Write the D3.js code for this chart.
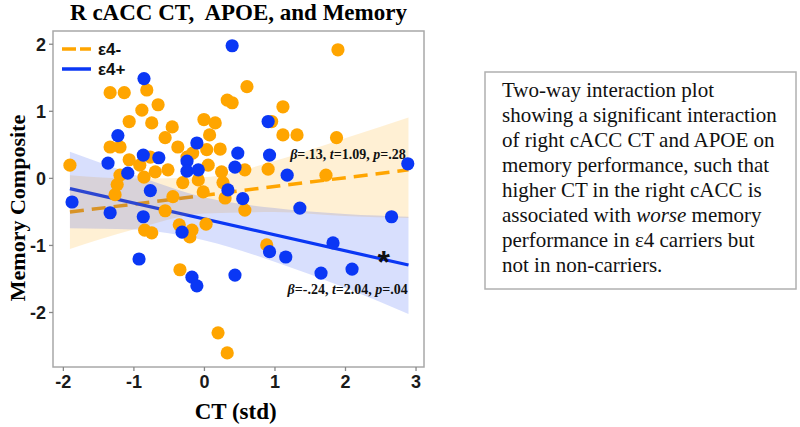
<!DOCTYPE html>
<html>
<head>
<meta charset="utf-8">
<script src="https://cdn.jsdelivr.net/npm/d3@7"></script>
<style>
  body { margin: 0; background: #fff; }
  svg { display: block; }
</style>
</head>
<body>
<div id="chart"></div>
<script>
// e4- (non-carriers), CT (std) and memory composite
var neg_ct  = [-1.90, -1.33, -1.13, -0.81, -0.88, -0.65, -1.06, -0.74, -0.45, -0.55,
               -1.33, -1.19, -1.06, -0.76, -0.91, -0.85, -1.19, -1.23, -1.26, -0.44,
                0.33,  0.40,  0.00,  0.16,  0.08, -0.37, -0.24,  0.04,  0.23,  0.06,
                0.25, -0.30, -0.08, -0.01,  0.27,  1.90,  0.61,  1.12,  0.96,  1.12,
                1.32,  1.88,  0.58,  0.91,  1.73, -0.16, -0.51, -0.69, -0.84, -0.74,
               -0.55, -0.35, -0.17, -0.20,  0.03, -0.34,  0.20,  0.33,  0.30,  0.58,  0.89]
var neg_mem = [ 0.19,  1.27,  1.27,  1.31,  1.01,  1.09,  0.84,  0.82,  0.76,  0.60,
                0.46,  0.46,  0.27,  0.31,  0.19,  0.01,  0.04, -0.10, -0.25, -0.28,
                1.16,  1.12,  0.87,  0.82,  0.64,  0.46,  0.31,  0.42,  0.43,  0.19,
                0.09, -0.07, -0.03, -0.21, -0.07,  1.91,  1.36,  1.06,  0.84,  0.64,
                0.64,  0.60,  0.12,  0.13,  0.04,  0.37,  0.12,  0.09, -0.78, -0.82,
               -0.49, -0.70, -0.78, -0.88, -0.69, -1.37, -2.31, -2.61, -0.30, -0.48, -1.00]

// e4+ (carriers)
var pos_ct  = [ 0.40, -0.85, -1.22, -1.36, -1.08, -0.86, -0.64, -0.76, -0.10, -0.24,
               -0.24, -0.08,  0.44,  0.48,  0.34,  0.55,  0.91,  0.93,  1.18,  2.89,
               -1.87, -1.33, -0.86, -0.31, -0.92, -0.17, -0.10,  0.44,  0.93,  1.16,
                1.36,  2.66,  1.83,  1.66,  2.10]
var pos_mem = [ 1.97,  1.48,  0.63,  0.22,  0.07,  0.34,  0.30, -0.19,  0.52,  0.25,
                0.10,  0.12,  0.16,  0.37, -0.18, -0.31,  0.84,  0.34,  0.04,  0.21,
               -0.36, -0.52, -0.58, -0.81, -1.21, -1.48, -1.61, -1.45, -1.10, -1.18,
               -0.45, -0.58, -0.97, -1.42, -1.36]

// fitted lines, end points
var fit_x   = [-1.9, 2.9]
var neg_fit = [-0.51, 0.12]
var pos_fit = [-0.16, -1.30]

// confidence bands
var band_x = [-1.9, -1, 0, 1, 2, 2.9]
var neg_lo = [-1.06, -0.77, -0.53, -0.51, -0.57, -0.60]
var neg_hi = [ 0.04, -0.01,  0.01,  0.25,  0.59,  0.90]
var pos_lo = [-0.75, -0.77, -0.93, -1.25, -1.64, -2.03]
var pos_hi = [ 0.39,  0.05, -0.29, -0.45, -0.54, -0.58]

var x_ticks = [-2, -1, 0, 1, 2, 3]
var y_ticks = [-2, -1, 0, 1, 2]

var groups = ["\u03b54-", "\u03b54+"]
var note_lines = [
  "Two-way interaction plot",
  "showing a significant interaction",
  "of right cACC CT and APOE on",
  "memory performance, such that",
  "higher CT in the right cACC is",
  "associated with |worse| memory",
  "performance in \u03b54 carriers but",
  "not in non-carriers."
]

var orange = "#ffa500", blue = "#0a37f5"
var serif = "'Liberation Serif', 'Times New Roman', serif"
var sans = "'Liberation Sans', Arial, sans-serif"

var margin = {top: 31, left: 53}
var width = 371, height = 336

var svg = d3.select("#chart").append("svg")
    .attr("width", 800)
    .attr("height", 427)

var g = svg.append("g")
    .attr("transform", "translate(" + margin.left + "," + margin.top + ")")

var x = d3.scaleLinear().domain([-2.14, 3.12]).range([0, width])
var y = d3.scaleLinear().domain([-2.82, 2.19]).range([height, 0])

// clip to panel
g.append("clipPath").attr("id", "panel")
  .append("rect").attr("width", width).attr("height", height)

var plot = g.append("g").attr("clip-path", "url(#panel)")

var line = d3.line().x(function(d){ return x(d[0]) }).y(function(d){ return y(d[1]) })

plot.append("path")
    .attr("d", line(d3.zip(fit_x, neg_fit)))
    .attr("fill", "none")
    .attr("stroke", orange)
    .attr("stroke-width", 3.5)
    .attr("stroke-dasharray", "14,8")

plot.append("path")
    .attr("d", line(d3.zip(fit_x, pos_fit)))
    .attr("fill", "none")
    .attr("stroke", blue)
    .attr("stroke-width", 3.2)

var area = d3.area()
    .curve(d3.curveMonotoneX)
    .x(function(d){ return x(d[0]) })
    .y0(function(d){ return y(d[1]) })
    .y1(function(d){ return y(d[2]) })

plot.append("path")
    .attr("d", area(d3.zip(band_x, neg_lo, neg_hi)))
    .attr("fill", orange)
    .attr("fill-opacity", 0.17)

plot.append("path")
    .attr("d", area(d3.zip(band_x, pos_lo, pos_hi)))
    .attr("fill", blue)
    .attr("fill-opacity", 0.16)

plot.selectAll(".neg").data(d3.zip(neg_ct, neg_mem)).enter()
  .append("circle")
    .attr("class", "neg")
    .attr("cx", function(d){ return x(d[0]) })
    .attr("cy", function(d){ return y(d[1]) })
    .attr("r", 6.6)
    .attr("fill", orange)

plot.selectAll(".pos").data(d3.zip(pos_ct, pos_mem)).enter()
  .append("circle")
    .attr("class", "pos")
    .attr("cx", function(d){ return x(d[0]) })
    .attr("cy", function(d){ return y(d[1]) })
    .attr("r", 6.6)
    .attr("fill", blue)

// panel border
g.append("rect")
    .attr("width", width)
    .attr("height", height)
    .attr("fill", "none")
    .attr("stroke", "#a8a8a8")
    .attr("stroke-width", 1.5)

// axes
var xAxis = g.append("g")
    .attr("transform", "translate(0," + height + ")")
    .call(d3.axisBottom(x).tickValues(x_ticks).tickSize(4).tickPadding(4)
          .tickFormat(function(d){ return String(d) }))
var yAxis = g.append("g")
    .call(d3.axisLeft(y).tickValues(y_ticks).tickSize(4).tickPadding(3)
          .tickFormat(function(d){ return String(d) }))

;[xAxis, yAxis].forEach(function(a){
  a.select(".domain").remove()
  a.selectAll(".tick line").attr("stroke", "#888").attr("stroke-width", 1.3)
  a.selectAll(".tick text")
    .attr("fill", "#1a1a1a")
    .style("font-family", sans)
    .style("font-weight", "bold")
    .style("font-size", "18px")
})
yAxis.selectAll(".tick text").attr("dy", "0.35em")

// legend
var legend = g.append("g")
groups.forEach(function(name, i){
  var ly = 18 + i * 20
  legend.append("line")
      .attr("x1", 9).attr("x2", 38)
      .attr("y1", ly).attr("y2", ly)
      .attr("stroke", i == 0 ? orange : blue)
      .attr("stroke-width", 3.5)
      .attr("stroke-dasharray", i == 0 ? "14,4" : null)
  legend.append("text")
      .attr("x", 45).attr("y", ly + 6)
      .text(name)
      .style("font-family", sans)
      .style("font-weight", "bold")
      .style("font-size", "17px")
      .attr("fill", "#111")
})

// stats annotations
function stat(xv, yv, parts){
  var t = g.append("text")
      .attr("x", x(xv)).attr("y", y(yv))
      .attr("text-anchor", "end")
      .style("font-family", serif)
      .style("font-weight", "bold")
      .style("font-size", "14px")
      .attr("fill", "#111")
  parts.forEach(function(p){
    t.append("tspan").text(p[0]).style("font-style", p[1] ? "italic" : "normal")
  })
}
stat(2.86, 0.28, [["\u03b2", 1], ["=.13, ", 0], ["t", 1], ["=1.09, ", 0], ["p", 1], ["=.28", 0]])
stat(2.89, -1.73, [["\u03b2", 1], ["=-.24, ", 0], ["t", 1], ["=2.04, ", 0], ["p", 1], ["=.04", 0]])

g.append("text")
    .attr("x", x(2.55)).attr("y", y(-1.22) + 13)
    .attr("text-anchor", "middle")
    .text("*")
    .style("font-family", sans)
    .style("font-weight", "bold")
    .style("font-size", "32px")
    .attr("fill", "#111")

// titles
svg.append("text")
    .attr("x", margin.left + width / 2 + 0).attr("y", 20)
    .attr("text-anchor", "middle")
    .attr("xml:space", "preserve")
    .style("white-space", "pre")
    .text("R cACC CT,  APOE, and Memory")
    .style("font-family", serif)
    .style("font-weight", "bold")
    .style("font-size", "23px")

svg.append("text")
    .attr("x", margin.left + x(0.45)).attr("y", 419)
    .attr("text-anchor", "middle")
    .text("CT (std)")
    .style("font-family", serif)
    .style("font-weight", "bold")
    .style("font-size", "23px")

svg.append("text")
    .attr("transform", "translate(25," + 208 + ") rotate(-90)")
    .attr("text-anchor", "middle")
    .text("Memory Composite")
    .style("font-family", serif)
    .style("font-weight", "bold")
    .style("font-size", "22px")

// explanatory box
var box = svg.append("g").attr("transform", "translate(485,72)")
box.append("rect")
    .attr("width", 311).attr("height", 217)
    .attr("fill", "#fff")
    .attr("stroke", "#b0b0b0")
    .attr("stroke-width", 1.5)

note_lines.forEach(function(s, i){
  var t = box.append("text")
      .attr("x", 17).attr("y", 25 + i * 25)
      .style("font-family", serif)
      .style("font-size", "21px")
      .attr("fill", "#111")
  s.split("|").forEach(function(part, j){
    t.append("tspan").text(part).style("font-style", j == 1 ? "italic" : "normal")
  })
})
</script>
</body>
</html>
